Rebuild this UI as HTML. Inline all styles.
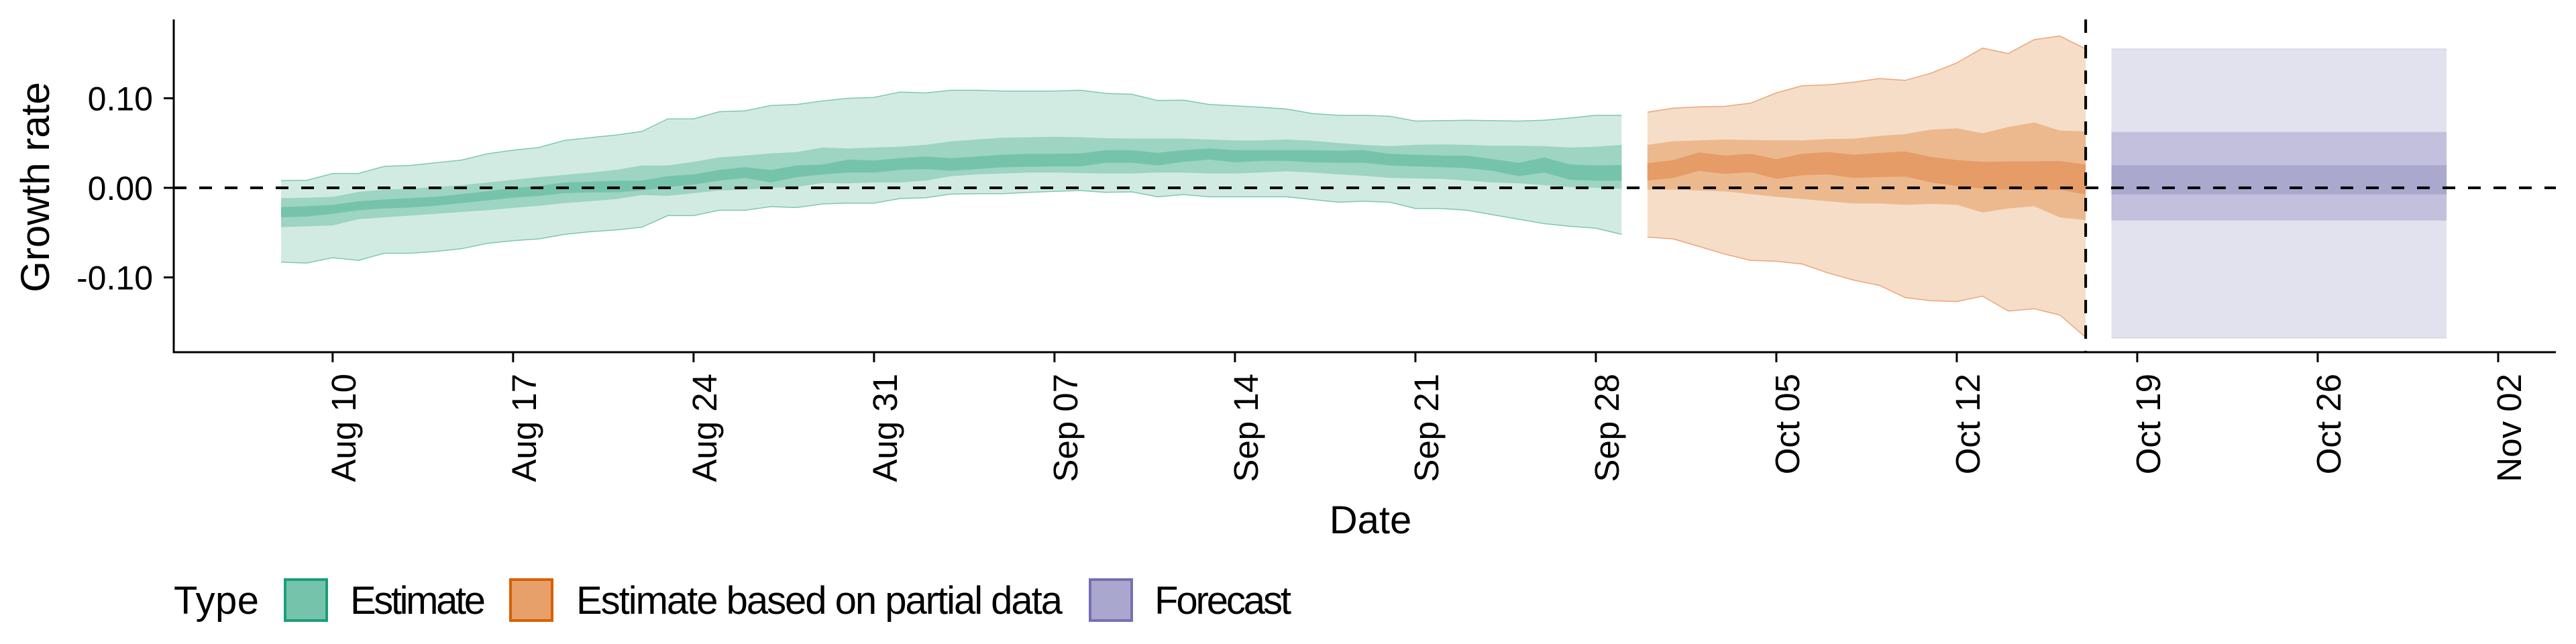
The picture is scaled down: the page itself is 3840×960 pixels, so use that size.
<!DOCTYPE html>
<html><head><meta charset="utf-8"><style>
html,body{margin:0;padding:0;background:#fff;}
svg{display:block;font-family:"Liberation Sans",Arial,sans-serif;}
</style></head><body>
<svg id="chart" width="3840" height="960" viewBox="0 0 3840 960" xmlns="http://www.w3.org/2000/svg">
<g id="plot"></g>
<g id="axes"></g>
<g id="legend">
  <text x="259" y="915" font-size="58" textLength="127">Type</text>
  <rect x="425" y="864" width="62" height="61" fill="#76c3ab" stroke="#1b9e77" stroke-width="4"/>
  <text x="522" y="915" font-size="58" textLength="202">Estimate</text>
  <rect x="761" y="864" width="62" height="61" fill="#e8a06a" stroke="#d95f02" stroke-width="4"/>
  <text x="859" y="915" font-size="58" textLength="725">Estimate based on partial data</text>
  <rect x="1625" y="864" width="62" height="61" fill="#aaa7cf" stroke="#7570b3" stroke-width="4"/>
  <text x="1721" y="915" font-size="58" textLength="204">Forecast</text>
</g>
</svg>
<script>
// Day index 0 = Aug 08
const estDayStart = 0;
const estOuterHi = [0.8,0.85,1.6,1.6,2.4,2.5,2.8,3.1,3.8,4.2,4.5,5.3,5.6,5.9,6.3,7.7,7.7,8.5,8.6,9.2,9.3,9.7,10.0,10.1,10.7,10.6,10.9,10.9,10.8,10.8,10.8,10.9,10.55,10.45,9.75,9.8,9.3,9.15,9.0,8.8,8.3,8.1,8.1,8.0,7.45,7.5,7.55,7.5,7.45,7.55,7.8,8.1,8.1];
const estOuterLo = [-8.3,-8.4,-7.8,-8.1,-7.3,-7.3,-7.1,-6.8,-6.2,-5.9,-5.7,-5.2,-4.9,-4.7,-4.4,-3.1,-3.1,-2.5,-2.5,-2.1,-2.2,-1.8,-1.7,-1.7,-1.2,-1.1,-0.7,-0.65,-0.65,-0.5,-0.4,-0.3,-0.5,-0.45,-1.0,-0.75,-1.0,-1.0,-1.0,-1.0,-1.3,-1.6,-1.5,-1.6,-2.3,-2.3,-2.5,-3.0,-3.5,-4.0,-4.3,-4.5,-5.2];
const estMidHi = [-1.15,-1.1,-1.0,-0.45,-0.2,-0.1,0.1,0.3,0.6,0.9,1.2,1.45,1.7,2.0,2.5,2.5,2.9,3.4,3.6,3.85,4.0,4.5,4.4,4.5,4.6,4.8,5.2,5.4,5.6,5.65,5.7,5.65,5.55,5.5,5.5,5.5,5.4,5.3,5.3,5.4,5.25,5.0,4.8,4.65,4.8,4.85,4.8,4.7,4.7,4.65,4.5,4.6,4.8];
const estMidLo = [-4.4,-4.3,-4.2,-3.5,-3.3,-3.1,-2.9,-2.7,-2.5,-2.25,-2.0,-1.7,-1.5,-1.25,-0.8,-0.9,-0.6,-0.3,-0.2,0,0.1,0.55,0.5,0.6,0.6,0.8,1.3,1.5,1.6,1.7,1.7,1.65,1.6,1.6,1.7,1.7,1.6,1.6,1.7,1.85,1.7,1.5,1.35,1.1,1.05,1.0,0.8,0.6,0.5,0.3,0.1,0,-0.1];
const estInHi = [-2.15,-2.05,-1.9,-1.5,-1.3,-1.15,-1.0,-0.7,-0.4,0,0.2,0.6,0.7,0.8,0.8,1.3,1.5,2.0,2.3,2.0,2.5,2.6,3.15,3.05,3.3,3.5,3.3,3.5,3.7,3.8,3.8,3.85,4.2,4.2,3.9,4.2,4.4,4.2,4.2,4.2,4.2,4.15,4.2,3.8,3.7,3.6,3.6,3.2,2.8,3.4,2.6,2.5,2.55];
const estInLo = [-3.3,-3.2,-2.9,-2.5,-2.3,-2.2,-2.0,-1.7,-1.4,-1.1,-0.9,-0.6,-0.5,-0.5,-0.3,0.1,0.35,0.8,1.1,0.6,1.2,1.5,1.7,1.7,2.0,2.1,1.9,2.1,2.3,2.35,2.4,2.4,2.8,2.8,2.5,2.9,3.15,2.85,3.0,3.0,2.85,2.8,2.8,2.5,2.4,2.3,2.2,1.9,1.3,1.7,0.9,0.8,0.8];

const parDayStart = 53;
const parOuterHi = [8.45,8.9,9.05,9.1,9.45,10.6,11.4,11.5,11.8,12.2,12.0,12.8,13.95,15.6,15.0,16.55,16.95,15.5];
const parOuterLo = [-5.5,-5.7,-6.55,-7.4,-8.1,-8.2,-8.5,-9.5,-10.3,-10.9,-12.25,-12.6,-12.7,-12.1,-13.75,-13.5,-14.2,-16.7];
const parMidHi = [4.8,5.2,5.3,5.4,5.35,5.3,5.3,5.45,5.5,5.8,6.0,6.5,6.65,6.1,6.8,7.3,6.4,6.3];
const parMidLo = [-0.2,-0.2,-0.3,-0.4,-0.7,-1.0,-1.25,-1.5,-1.75,-1.75,-1.9,-1.8,-1.9,-2.75,-2.3,-2.05,-3.3,-3.6];
const parInHi = [2.75,3.1,3.95,3.6,3.8,3.2,3.8,4.0,3.7,3.9,4.05,3.45,3.1,2.9,2.95,2.95,3.0,2.6];
const parInLo = [0.8,1.1,1.9,1.55,1.75,1.0,1.4,1.5,1.1,1.2,1.25,0.6,0.2,-0.1,-0.2,-0.25,-0.2,-0.75];

const fcDays = [71,84];
const fcBands = [15.5,-16.75,6.25,-3.65,2.53,-0.73]; // outer hi/lo, mid hi/lo, inner hi/lo (hundredths)

const yTicks = [0.10,0.00,-0.10];
const yTickLabels = ["0.10","0.00","-0.10"];
const xTickDays = [2,9,16,23,30,37,44,51,58,65,72,79,86];
const xTickLabels = ["Aug 10","Aug 17","Aug 24","Aug 31","Sep 07","Sep 14","Sep 21","Sep 28","Oct 05","Oct 12","Oct 19","Oct 26","Nov 02"];
const cutoffDay = 70;

const NS="http://www.w3.org/2000/svg";
const xS = d => 419 + 38.43*d;
const yS = v => 280 - 1335*v;
function mk(tag, attrs, parent){const e=document.createElementNS(NS,tag);for(const k in attrs)e.setAttribute(k,attrs[k]);parent.appendChild(e);return e;}
const plot=document.getElementById('plot'), axes=document.getElementById('axes');

function ribbon(start, hi, lo, fill, stroke, name){
  let pts=[];
  for(let i=0;i<hi.length;i++)pts.push(xS(start+i).toFixed(1)+','+yS(hi[i]/100).toFixed(1));
  for(let i=lo.length-1;i>=0;i--)pts.push(xS(start+i).toFixed(1)+','+yS(lo[i]/100).toFixed(1));
  const p=mk('polygon',{points:pts.join(' '),fill:fill},plot);
  
  
  if(stroke){
    const a=hi.map((v,i)=>xS(start+i).toFixed(1)+','+yS(v/100).toFixed(1)).join(' ');
    const b=lo.map((v,i)=>xS(start+i).toFixed(1)+','+yS(v/100).toFixed(1)).join(' ');
    const l1=mk('polyline',{points:a,fill:'none',stroke:stroke,'stroke-width':1.5},plot);
    
    
    const l2=mk('polyline',{points:b,fill:'none',stroke:stroke,'stroke-width':1.5},plot);
    
    
  }
}
ribbon(estDayStart,estOuterHi,estOuterLo,'#d2ebe2','#7dc9ae','estimate-90-band');
ribbon(estDayStart,estMidHi,estMidLo,'#9dd4c2',null,'estimate-50-band');
ribbon(estDayStart,estInHi,estInLo,'#76c3ab',null,'estimate-20-band');
ribbon(parDayStart,parOuterHi,parOuterLo,'#f6ddc8','#eba679','partial-90-band');
ribbon(parDayStart,parMidHi,parMidLo,'#ecb98e',null,'partial-50-band');
ribbon(parDayStart,parInHi,parInLo,'#e59c66',null,'partial-20-band');
const fcN = fcDays[1]-fcDays[0]+1;
const fcColors=['#e2e2ef','#c3c0dd','#aba8ce'];
const fcNames=['forecast-90-band','forecast-50-band','forecast-20-band'];
for(let k=0;k<3;k++){
  ribbon(fcDays[0],Array(fcN).fill(fcBands[2*k]),Array(fcN).fill(fcBands[2*k+1]),fcColors[k],k===0?'#d6d4ea':null,fcNames[k]);
}

const z=mk('line',{x1:259,x2:3810,y1:yS(0),y2:yS(0),stroke:'#000','stroke-width':4,'stroke-dasharray':'19 19'},axes);


const c=mk('line',{x1:xS(cutoffDay),x2:xS(cutoffDay),y1:29,y2:525,stroke:'#000','stroke-width':4,'stroke-dasharray':'20 18'},axes);


const ya=mk('line',{x1:259,x2:259,y1:29,y2:526.5,stroke:'#000','stroke-width':3},axes);


const xa=mk('line',{x1:257.5,x2:3810,y1:525,y2:525,stroke:'#000','stroke-width':3},axes);


yTicks.forEach((v,i)=>{
  const t=mk('line',{x1:244,x2:259,y1:yS(v),y2:yS(v),stroke:'#000','stroke-width':3},axes);
  
  
  const l=mk('text',{x:228,y:yS(v)+18,'font-size':50,'text-anchor':'end'},axes);
  
  
  l.textContent=yTickLabels[i];
});
xTickDays.forEach((d,i)=>{
  const x=xS(d);
  const t=mk('line',{x1:x,x2:x,y1:525,y2:540,stroke:'#000','stroke-width':3},axes);
  
  
  const l=mk('text',{x:0,y:0,'font-size':51,'text-anchor':'end',transform:`translate(${x+34},557) rotate(-90)`},axes);
  
  
  l.textContent=xTickLabels[i];
});
const yt=mk('text',{x:0,y:0,'font-size':60,'text-anchor':'middle',transform:'translate(73,279) rotate(-90)'},axes);


yt.textContent='Growth rate';
const xt=mk('text',{x:2043,y:795,'font-size':58,'text-anchor':'middle'},axes);


xt.textContent='Date';
</script>
</body></html>
